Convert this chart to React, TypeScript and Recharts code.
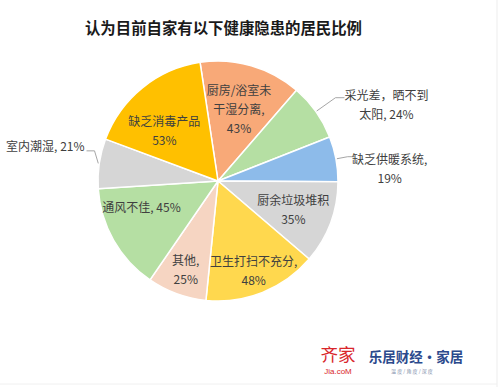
import { PieChart, Pie, Cell } from "recharts"

// Slices in clockwise order, starting from the top
const CATEGORIES = [
  "厨房/浴室未干湿分离",
  "采光差，晒不到太阳",
  "缺乏供暖系统",
  "厨余垃圾堆积",
  "卫生打扫不充分",
  "其他",
  "通风不佳",
  "室内潮湿",
  "缺乏消毒产品",
]
const VALUES = [43, 24, 19, 35, 48, 25, 45, 21, 53]
const COLORS = [
  "#F8A978",
  "#B5DFA3",
  "#8DBBEA",
  "#D6D6D6",
  "#FFD84E",
  "#F6D5C2",
  "#B5DFA3",
  "#D6D6D6",
  "#FFC000",
]
// How each label wraps; {v} gets the value
const LABEL_LINES = [
  ["厨房/浴室未", "干湿分离,", "{v}%"],
  ["采光差，晒不到", "太阳, {v}%"],
  ["缺乏供暖系统,", "{v}%"],
  ["厨余垃圾堆积", "{v}%"],
  ["卫生打扫不充分,", "{v}%"],
  ["其他,", "{v}%"],
  ["通风不佳, {v}%"],
  ["室内潮湿, {v}%"],
  ["缺乏消毒产品", "{v}%"],
]

const TITLE = "认为目前自家有以下健康隐患的居民比例"

const data = CATEGORIES.map((name, i) => ({ name, value: VALUES[i] }))

type Layout = {
  outside?: boolean
  r: number
  dx?: number
  dy?: number
  elbowDy?: number
  tail?: number
  anchor?: "start" | "middle" | "end"
}

// label placement per slice (radius factor + nudges)
const LABEL_LAYOUT: Layout[] = [
  { r: 0.63 },
  { outside: true, r: 1.2, tail: 9, dx: 42, dy: 6 },
  { outside: true, r: 1.1, tail: 7, dx: 35, dy: 11 },
  { r: 0.67 },
  { r: 0.8 },
  { r: 0.78 },
  { r: 0.8, dx: 7, dy: -22 },
  { outside: true, r: 1.04, elbowDy: -12, tail: -8, dx: -2, dy: -5, anchor: "end" },
  { r: 0.63, dx: -6, dy: 8 },
]

const RADIAN = Math.PI / 180
const LINE_H = 19
const LABEL_FONT = "'Noto Sans CJK SC', 'Noto Sans', sans-serif"

function renderLabel(props: any) {
  const { cx, cy, midAngle, outerRadius, index, value } = props
  const lay = LABEL_LAYOUT[index]
  const lines = LABEL_LINES[index].map((s) => s.replace("{v}", String(value)))
  const cos = Math.cos(-midAngle * RADIAN)
  const sin = Math.sin(-midAngle * RADIAN)
  const n = lines.length

  if (!lay.outside) {
    const x = cx + outerRadius * lay.r * cos + (lay.dx || 0)
    const y = cy + outerRadius * lay.r * sin + (lay.dy || 0)
    return (
      <text
        key={`l-${index}`}
        x={x}
        y={y}
        textAnchor="middle"
        fill="#404040"
        fontSize={12}
        fontFamily={LABEL_FONT}
      >
        {lines.map((t, i) => (
          <tspan key={i} x={x} y={y + (i - (n - 1) / 2) * LINE_H} dominantBaseline="central">
            {t}
          </tspan>
        ))}
      </text>
    )
  }

  const sx = cx + (outerRadius + 1) * cos
  const sy = cy + (outerRadius + 1) * sin
  const ex = cx + outerRadius * lay.r * cos
  const ey = cy + outerRadius * lay.r * sin + (lay.elbowDy || 0)
  const tx = ex + (lay.tail || 0)
  const x = tx + (lay.dx || 0)
  const y = ey + (lay.dy || 0)
  return (
    <g key={`l-${index}`}>
      <polyline
        points={`${sx},${sy} ${ex},${ey} ${tx},${ey}`}
        fill="none"
        stroke="#A6A6A6"
        strokeWidth={1}
      />
      <text
        x={x}
        y={y}
        textAnchor={lay.anchor || "middle"}
        fill="#404040"
        fontSize={12}
        fontFamily={LABEL_FONT}
      >
        {lines.map((t, i) => (
          <tspan key={i} x={x} y={y + (i - (n - 1) / 2) * LINE_H} dominantBaseline="central">
            {t}
          </tspan>
        ))}
      </text>
    </g>
  )
}

export default function App() {
  return (
    <div style={{ position: "absolute", left: 0, top: 0, width: 500, height: 387, background: "#fff" }}>
      <PieChart width={500} height={387} margin={{ top: 0, right: 0, bottom: 0, left: 0 }}>
        <Pie
          data={data}
          dataKey="value"
          nameKey="name"
          cx={218}
          cy={181}
          outerRadius={120}
          startAngle={98.6}
          endAngle={-261.4}
          stroke="#fff"
          strokeWidth={1.5}
          label={renderLabel}
          labelLine={false}
          isAnimationActive={false}
        >
          {data.map((d, i) => (
            <Cell key={d.name} fill={COLORS[i]} />
          ))}
        </Pie>
      </PieChart>
      <svg
        width={500}
        height={387}
        style={{ position: "absolute", left: 0, top: 0, pointerEvents: "none" }}
      >
        <text
          x={223.5}
          y={27}
          textAnchor="middle"
          dominantBaseline="central"
          fontSize={15.4}
          fontWeight="bold"
          fill="#1a1a1a"
          fontFamily="'Noto Sans CJK SC', sans-serif"
        >
          {TITLE}
        </text>
        <line x1={497} y1={0} x2={497} y2={387} stroke="#EDEDED" />
        <line x1={0} y1={384} x2={497} y2={384} stroke="#F0F0F0" />
        {/* watermark logos */}
        <text
          x={338}
          y={353}
          textAnchor="middle"
          dominantBaseline="central"
          fontSize={17.5}
          fill="#D9262B"
          fontFamily="'Noto Sans CJK SC', sans-serif"
        >
          齐家
        </text>
        <text
          x={338}
          y={371}
          textAnchor="middle"
          dominantBaseline="central"
          fontSize={8}
          fill="#D9262B"
          fontFamily="Arial, 'Liberation Sans', sans-serif"
        >
          Jia.coM
        </text>
        <text
          x={416}
          y={356}
          textAnchor="middle"
          dominantBaseline="central"
          fontSize={13.5}
          fontWeight="bold"
          fill="#2B4A8C"
          fontFamily="'Noto Sans CJK SC', sans-serif"
        >
          乐居财经·家居
        </text>
        <text
          x={412}
          y={370}
          textAnchor="middle"
          dominantBaseline="central"
          fontSize={5}
          fill="#7A8AA8"
          fontFamily="'Noto Sans CJK SC', sans-serif"
        >
          温 度 / 角 度 / 深 度
        </text>
      </svg>
    </div>
  )
}
